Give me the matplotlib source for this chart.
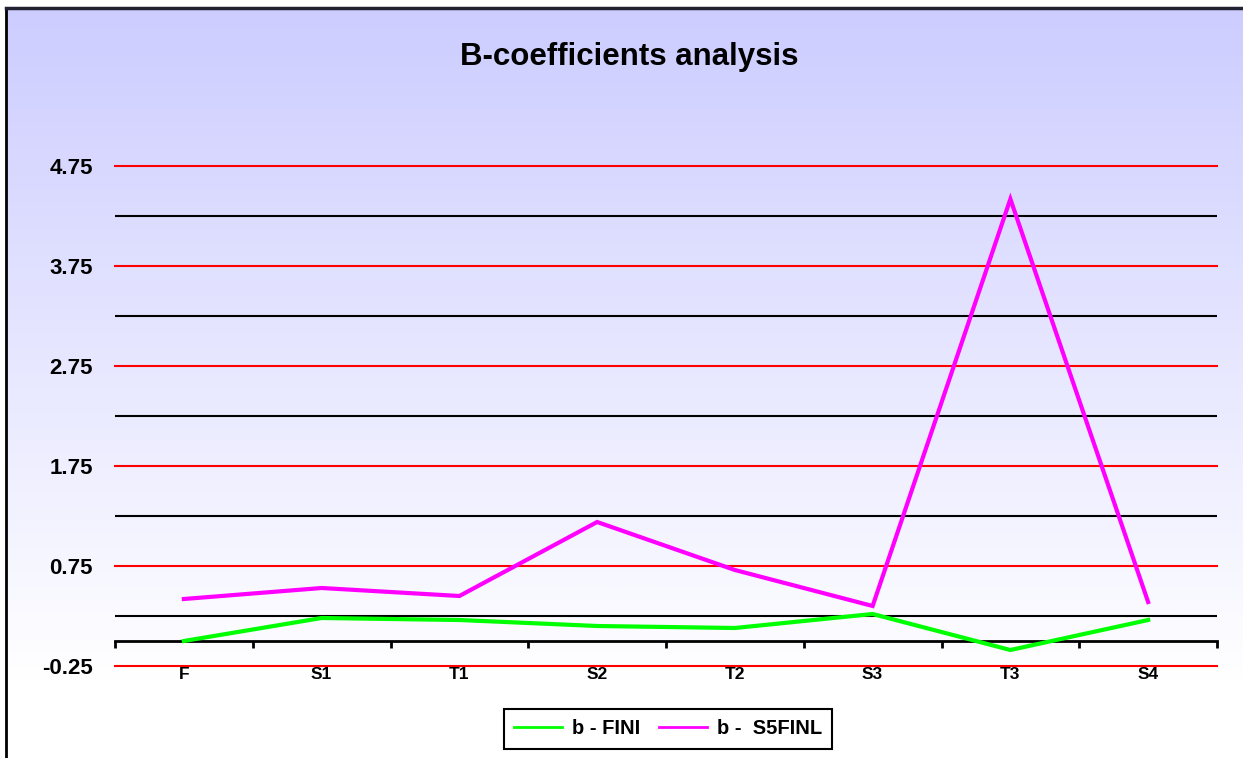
import matplotlib
matplotlib.use("Agg")
import matplotlib.pyplot as plt
from matplotlib.lines import Line2D
from matplotlib.patches import Rectangle
from matplotlib.colors import LinearSegmentedColormap
import numpy as np

plt.rcParams["font.family"] = ["Liberation Sans", "DejaVu Sans"]
plt.rcParams["font.weight"] = "bold"

categories = ["F", "S1", "T1", "S2", "T2", "S3", "T3", "S4"]
b_fini = [0.00, 0.23, 0.21, 0.15, 0.13, 0.27, -0.09, 0.21]
b_s5finl = [0.42, 0.53, 0.45, 1.19, 0.71, 0.35, 4.42, 0.39]
y_labels = [-0.25, 0.75, 1.75, 2.75, 3.75, 4.75]
y_black = [0.25, 1.25, 2.25, 3.25, 4.25]

W, H = 1243, 758
fig = plt.figure(figsize=(W / 100, H / 100), dpi=100)

# lavender-to-white backdrop behind everything
bg = fig.add_axes([0, 0, 1, 1], zorder=-10)
grad = LinearSegmentedColormap.from_list("bg", ["#CCCCFF", "#FFFFFF"])
rows = np.linspace(0, 1, 400)
rows = np.clip(rows / 0.90, 0, 1).reshape(-1, 1)
bg.imshow(rows, aspect="auto", cmap=grad, extent=[0, 1, 0, 1], origin="upper")
bg.set_xlim(0, 1)
bg.set_ylim(0, 1)
bg.axis("off")
# white margin outside the chart frame
bg.add_patch(Rectangle((0, 1 - 8 / H), 1, 8 / H, facecolor="white", edgecolor="none"))
bg.add_patch(Rectangle((0, 0), 6 / W, 1, facecolor="white", edgecolor="none"))
fig.add_artist(Line2D([6 / W, 6 / W], [0, 1 - 8 / H], color="black", lw=2))
fig.add_artist(Line2D([6 / W, 1], [1 - 8 / H, 1 - 8 / H], color="#222233", lw=2.5))

ax = fig.add_axes([115 / W, 1 - 666 / H, 1102 / W, 550 / H])
ax.set_facecolor("none")
x = np.arange(len(categories))

for yv in y_labels:
    ax.axhline(yv, color="red", lw=1.5, zorder=1, clip_on=False)
for yv in y_black:
    ax.axhline(yv, color="black", lw=1.5, zorder=1)

ax.plot(x, b_fini, color="#00FF00", lw=3.0, zorder=3, solid_joinstyle="miter")
ax.plot(x, b_s5finl, color="#FF00FF", lw=3.0, zorder=3, solid_joinstyle="miter")

ax.set_xlim(-0.5, len(categories) - 0.5)
ax.set_ylim(-0.25, 5.25)

for side in ["top", "right", "left"]:
    ax.spines[side].set_visible(False)
ax.spines["bottom"].set_position(("data", 0))
ax.spines["bottom"].set_linewidth(2)
ax.spines["bottom"].set_zorder(2)

ax.set_yticks(y_labels)
ax.set_yticklabels([f"{v:.2f}" for v in y_labels], fontsize=16, fontweight="bold")
ax.tick_params(axis="y", length=0, pad=16)

ax.set_xticks(x)
ax.set_xticklabels(categories, fontsize=12.5, fontweight="bold")
ax.set_xticks(np.arange(-0.5, len(categories)), minor=True)
ax.tick_params(axis="x", which="major", length=0, pad=19)
ax.tick_params(axis="x", which="minor", length=5, width=2, direction="out")

fig.text(629 / W, 1 - 57 / H, "B-coefficients analysis", ha="center", va="center",
         fontsize=22.5, fontweight="bold")

handles = [Line2D([], [], color="#00FF00", lw=2),
           Line2D([], [], color="#FF00FF", lw=2)]
leg = fig.legend(handles, ["b - FINI", "b -  S5FINL"], loc="center",
                 bbox_to_anchor=(668 / W, 1 - 729 / H), ncol=2, frameon=True,
                 fancybox=False, edgecolor="black", framealpha=1,
                 prop={"size": 14.5, "weight": "bold"}, handlelength=2.4,
                 columnspacing=0.9, handletextpad=0.5, borderpad=0.5)
leg.get_frame().set_linewidth(1.5)

fig.savefig("out.png", dpi=100)
